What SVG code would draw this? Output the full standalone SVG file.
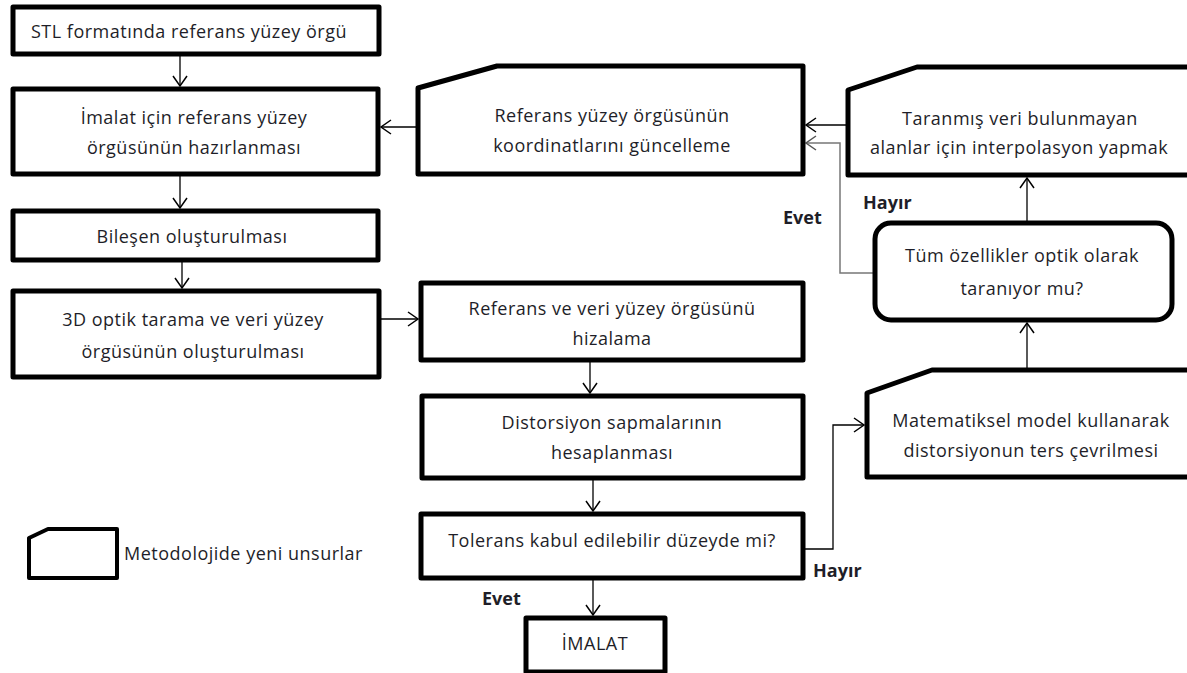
<svg xmlns="http://www.w3.org/2000/svg" width="1187" height="673" viewBox="0 0 1187 673">
<style>
.box{fill:#fff;stroke:#000;stroke-width:5;stroke-linejoin:round}
.t{font-family:"Open Sans","Noto Sans","DejaVu Sans",sans-serif;font-size:18px;letter-spacing:0.5px;fill:#1e1e28;text-anchor:middle}
.lab{font-family:"Open Sans","Noto Sans","DejaVu Sans",sans-serif;font-size:18px;font-weight:bold;fill:#1e1e28}
.c{fill:none;stroke:#000;stroke-width:1.3}
.g{fill:none;stroke:#777;stroke-width:1.5}
</style>
<defs>
<marker id="a" markerUnits="userSpaceOnUse" markerWidth="14" markerHeight="16" refX="11" refY="8" orient="auto">
<path d="M1,1 L11,8 L1,15" fill="none" stroke="#000" stroke-width="1.5"/>
</marker>
<marker id="ag" markerUnits="userSpaceOnUse" markerWidth="14" markerHeight="16" refX="11" refY="8" orient="auto">
<path d="M1,1 L11,8 L1,15" fill="none" stroke="#555" stroke-width="1.5"/>
</marker>
</defs>
<rect width="1187" height="673" fill="#fff"/>
<g id="connectors">
<path class="c" d="M180,54 V86" marker-end="url(#a)"/>
<path class="c" d="M180,174 V208" marker-end="url(#a)"/>
<path class="c" d="M182,260 V288" marker-end="url(#a)"/>
<path class="c" d="M380,319 H418" marker-end="url(#a)"/>
<path class="c" d="M590,360 V393" marker-end="url(#a)"/>
<path class="c" d="M593,478 V511" marker-end="url(#a)"/>
<path class="c" d="M593,578 V615" marker-end="url(#a)"/>
<path class="c" d="M803,549 H833 V425 H864" marker-end="url(#a)"/>
<path class="c" d="M1027,370 V323" marker-end="url(#a)"/>
<path class="c" d="M1027,223 V178" marker-end="url(#a)"/>
<path class="c" d="M848,125 H806" marker-end="url(#a)"/>
<path class="g" d="M875,273 H840 V143 H806" marker-end="url(#ag)"/>
<path class="c" d="M418,127 H381" marker-end="url(#a)"/>
</g>
<g id="n1"><rect class="box" x="13" y="7" width="366" height="47"/><text class="t" x="189" y="38">STL formatında referans yüzey örgü</text></g>
<g id="n2"><rect class="box" x="13" y="89" width="365" height="85"/><text class="t" x="194" y="124">İmalat için referans yüzey</text><text class="t" x="194" y="154">örgüsünün hazırlanması</text></g>
<g id="n3"><rect class="box" x="13" y="211" width="365" height="49"/><text class="t" x="192" y="243">Bileşen oluşturulması</text></g>
<g id="n4"><rect class="box" x="13" y="291" width="366" height="86"/><text class="t" x="193" y="326">3D optik tarama ve veri yüzey</text><text class="t" x="193" y="358">örgüsünün oluşturulması</text></g>
<g id="n5"><rect class="box" x="421" y="283" width="382" height="77"/><text class="t" x="612" y="315">Referans ve veri yüzey örgüsünü</text><text class="t" x="612" y="345">hizalama</text></g>
<g id="n6"><rect class="box" x="422" y="396" width="381" height="82"/><text class="t" x="612" y="429">Distorsiyon sapmalarının</text><text class="t" x="612" y="459">hesaplanması</text></g>
<g id="n7"><rect class="box" x="421" y="514" width="382" height="64"/><text class="t" x="612" y="547">Tolerans kabul edilebilir düzeyde mi?</text></g>
<g id="n8"><rect class="box" x="526" y="618" width="139" height="54"/><text class="t" x="595" y="650">İMALAT</text></g>
<g id="n9"><path class="box" d="M418,88 L497,66 L803,66 L803,174 L418,174 Z"/><text class="t" x="612" y="122">Referans yüzey örgüsünün</text><text class="t" x="612" y="152">koordinatlarını güncelleme</text></g>
<g id="n10"><path class="box" d="M848,90 L917,67 L1195,67 L1195,175 L848,175 Z"/><text class="t" x="1020" y="125">Taranmış veri bulunmayan</text><text class="t" x="1019" y="154">alanlar için interpolasyon yapmak</text></g>
<g id="n11"><rect class="box" x="875" y="223" width="297" height="97" rx="16"/><text class="t" x="1022" y="262">Tüm özellikler optik olarak</text><text class="t" x="1022" y="295">taranıyor mu?</text></g>
<g id="n12"><path class="box" d="M867,393 L932,370 L1195,370 L1195,477 L867,477 Z"/><text class="t" x="1031" y="427">Matematiksel model kullanarak</text><text class="t" x="1031" y="457">distorsiyonun ters çevrilmesi</text></g>
<g id="legend"><path class="box" style="stroke-width:4" d="M29,538 L48,529 L117,529 L117,578 L29,578 Z"/><text class="t" style="text-anchor:start" x="124" y="560">Metodolojide yeni unsurlar</text></g>
<g id="labels">
<text class="lab" x="863" y="209">Hayır</text>
<text class="lab" x="783" y="224">Evet</text>
<text class="lab" x="482" y="605">Evet</text>
<text class="lab" x="813" y="577">Hayır</text>
</g>
</svg>
